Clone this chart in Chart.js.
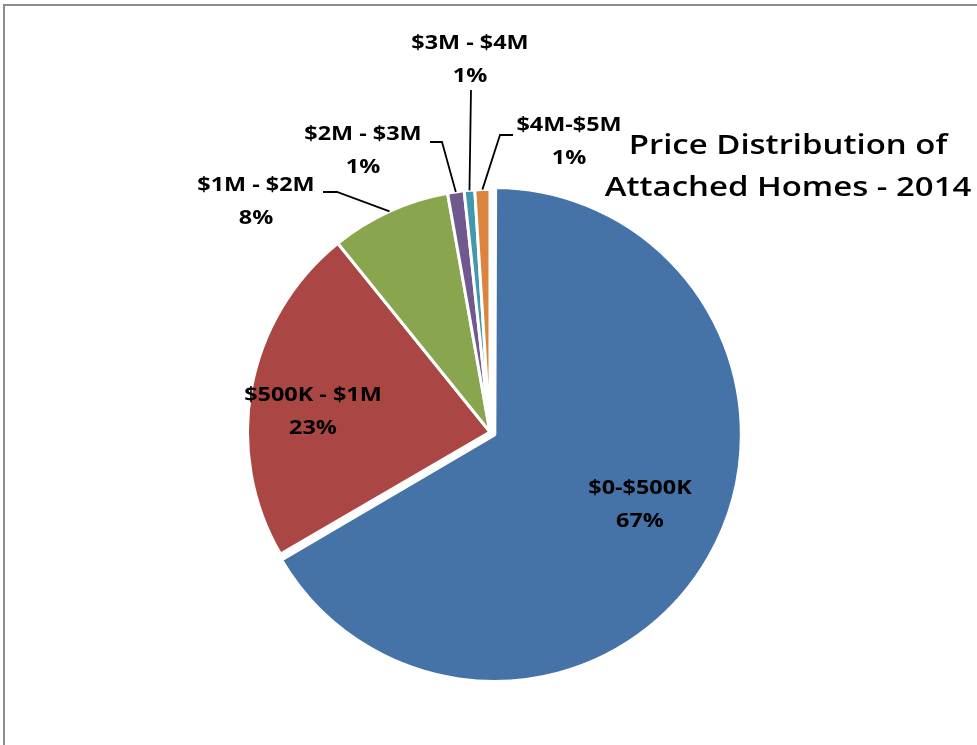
<!DOCTYPE html>
<html>
<head>
<meta charset="utf-8">
<script src="https://cdn.jsdelivr.net/npm/chart.js@4.4.1/dist/chart.umd.min.js"></script>
<style>
  html, body { margin: 0; padding: 0; background: #fff; overflow: hidden; }
  #frame { position: absolute; left: 3px; top: 4px; right: -10px; bottom: -10px;
           border-left: 2px solid #8c8c8c; border-top: 2px solid #8c8c8c; }
  #pie { position: absolute; left: 0; top: 0; }
</style>
</head>
<body>
<div id="frame"></div>
<canvas id="pie" width="977" height="745"></canvas>
<script>
(() => {
    'use strict';

    // data
    const categories = ['$0-$500K', '$500K - $1M', '$1M - $2M', '$2M - $3M', '$3M - $4M', '$4M-$5M'];
    const shares = [66.6, 22.6, 8.0, 1.1, 0.7, 1.0];
    const titleLines = ['Price Distribution of', 'Attached Homes - 2014'];

    const colors = ['#4572A7', '#AA4643', '#89A54E', '#71588F', '#4198AF', '#DB843D'];

    // label placement, relative to the pie centre (inside labels: relative to the slice centre)
    const labelLayout = [
        { inside: true, dx: 150, dy: 73 },
        { inside: true, dx: -177, dy: -20 },
        { dx: -234, dy: -230, line: [[-167, -240], [-153, -240]] },
        { dx: -127, dy: -281, line: [[-60, -290], [-48, -290]] },
        { dx: -20, dy: -372, line: [[-19, -342]] },
        { dx: 79, dy: -290, line: [[23, -297], [10, -297]] }
    ];

    const labelFont = 'bold 20px "Open Sans"';
    const titleFont = '600 27px "Open Sans"';

    const drawStretched = (ctx, str, x, y, sx) => {
        ctx.save();
        ctx.translate(x, y);
        ctx.scale(sx, 1);
        ctx.fillText(str, 0, 0);
        ctx.restore();
    };

    const pieLabels = {
        id: 'pieLabels',
        afterDraw(chart) {
            const ctx = chart.ctx;
            const arcs = chart.getDatasetMeta(0).data;
            const total = shares.reduce((a, b) => a + b, 0);
            const cx = (chart.chartArea.left + chart.chartArea.right) / 2;
            const cy = (chart.chartArea.top + chart.chartArea.bottom) / 2;

            ctx.save();
            ctx.fillStyle = '#000';
            ctx.strokeStyle = '#000';
            ctx.lineWidth = 1.8;
            ctx.textAlign = 'center';
            ctx.textBaseline = 'middle';
            ctx.font = labelFont;

            arcs.forEach((arc, i) => {
                const lay = labelLayout[i];
                const pct = Math.round(shares[i] / total * 100) + '%';
                const mid = (arc.startAngle + arc.endAngle) / 2;
                let x, y;
                if (lay.inside) {
                    x = arc.x + lay.dx;
                    y = arc.y + lay.dy;
                } else {
                    x = cx + lay.dx;
                    y = cy + lay.dy;
                    ctx.beginPath();
                    ctx.moveTo(cx + lay.line[0][0], cy + lay.line[0][1]);
                    lay.line.slice(1).forEach(p => ctx.lineTo(cx + p[0], cy + p[1]));
                    ctx.lineTo(arc.x + Math.cos(mid) * arc.outerRadius, arc.y + Math.sin(mid) * arc.outerRadius);
                    ctx.stroke();
                }
                drawStretched(ctx, categories[i], x, y - 16.5, 1.17);
                drawStretched(ctx, pct, x, y + 16.5, 1.17);
            });

            ctx.font = titleFont;
            drawStretched(ctx, titleLines[0], 788, 146, 1.22);
            drawStretched(ctx, titleLines[1], 788, 188, 1.22);
            ctx.restore();
        }
    };

    new Chart(document.getElementById('pie'), {
        type: 'pie',
        data: {
            labels: categories,
            datasets: [{
                data: shares,
                backgroundColor: colors,
                borderColor: '#fff',
                borderWidth: [4, 3, 3, 3, 3, 3],
                offset: [20, 0, 0, 0, 0, 0],
                hoverOffset: 0
            }]
        },
        options: {
            responsive: false,
            animation: false,
            radius: 242.5,
            layout: { padding: { left: 10, right: 7, top: 180, bottom: 61 } },
            plugins: {
                legend: { display: false },
                tooltip: { enabled: false }
            }
        },
        plugins: [pieLabels]
    });
})();
</script>
</body>
</html>
